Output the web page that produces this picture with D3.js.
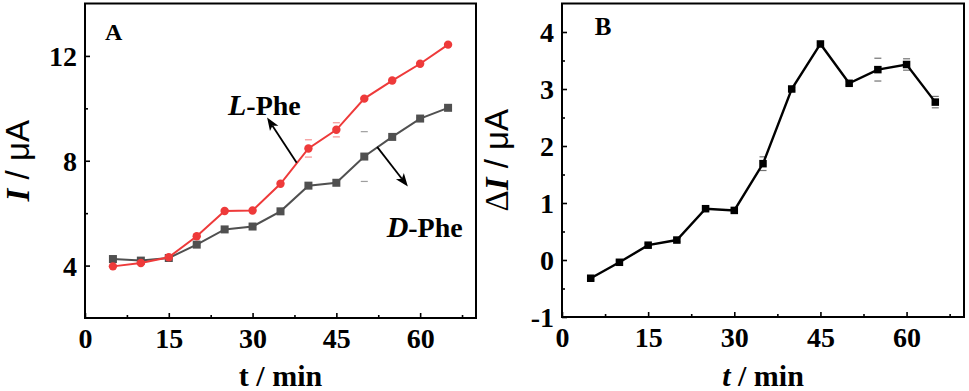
<!DOCTYPE html>
<html>
<head>
<meta charset="utf-8">
<script src="https://cdn.jsdelivr.net/npm/d3@7"></script>
<style>
  html, body { margin: 0; padding: 0; background: #fff; }
  svg { display: block; }
</style>
</head>
<body>
<svg id="chart" width="969" height="391"></svg>
<script>
// ---- data ----
const times = [5, 10, 15, 20, 25, 30, 35, 40, 45, 50, 55, 60, 65];
const lPhe = [3.97, 4.10, 4.32, 5.12, 6.08, 6.10, 7.12, 8.47, 9.18, 10.37, 11.06, 11.70, 12.43];
const lPheErr = [0.03, 0.03, 0.03, 0.03, 0.03, 0.03, 0.03, 0.33, 0.27, 0.03, 0.03, 0.03, 0.03];
const dPhe = [4.25, 4.19, 4.29, 4.80, 5.38, 5.49, 6.07, 7.05, 7.16, 8.16, 8.91, 9.61, 10.02];
const dPheErr = [0.03, 0.03, 0.03, 0.03, 0.03, 0.03, 0.03, 0.03, 0.03, 0.95, 0.03, 0.03, 0.03];
const deltaI = [-0.32, -0.04, 0.26, 0.35, 0.90, 0.87, 1.69, 3.00, 3.79, 3.10, 3.34, 3.43, 2.77];
const deltaErr = [0.03, 0.03, 0.03, 0.03, 0.03, 0.03, 0.12, 0.03, 0.03, 0.03, 0.2, 0.1, 0.1];
const xTicks = [0, 15, 30, 45, 60];
const yTicksA = [4, 8, 12];
const yTicksB = [-1, 0, 1, 2, 3, 4];

const RED = "#ee3a3a", GRAY = "#505050", BLACK = "#000";
const serif = "'Liberation Serif','Times New Roman',serif";
const sans = "'Liberation Sans',Arial,sans-serif";

const svg = d3.select("#chart");

function panel(opts) {
  const x = d3.scaleLinear().domain([0, 70]).range(opts.xr);
  const y = d3.scaleLinear().domain(opts.yd).range(opts.yr);
  const g = svg.append("g");

  const xAxis = d3.axisBottom(x).tickValues(xTicks).tickSize(-5).tickFormat(d3.format("d")).tickPadding(10);
  const xMinor = d3.axisBottom(x).tickValues(xTicks.map(v => v + 7.5)).tickSize(-3).tickFormat("");
  const yAxis = d3.axisLeft(y).tickValues(opts.yTicks).tickSize(-5).tickFormat(d3.format("d")).tickPadding(8);
  const yMinor = d3.axisLeft(y).tickValues(opts.yMinor).tickSize(-3).tickFormat("");

  const axes = [
    g.append("g").attr("transform", `translate(0,${opts.yr[0]})`).call(xAxis),
    g.append("g").attr("transform", `translate(0,${opts.yr[0]})`).call(xMinor),
    g.append("g").attr("transform", `translate(${opts.xr[0]},0)`).call(yAxis),
    g.append("g").attr("transform", `translate(${opts.xr[0]},0)`).call(yMinor)
  ];
  axes.forEach(a => {
    a.select(".domain").remove();
    a.selectAll(".tick line").attr("stroke", "#000").attr("stroke-width", 1.6);
    a.selectAll(".tick text").attr("font-family", serif).attr("font-weight", "bold")
      .attr("font-size", 28).attr("fill", "#000");
  });
  axes[2].selectAll(".tick text").attr("dy", "0.34em").text(d => d < 0 ? "-" + Math.abs(d) : d);
  axes[0].selectAll(".tick text").attr("dy", "0.71em");

  g.append("rect")
    .attr("x", opts.xr[0]).attr("y", opts.yr[1])
    .attr("width", opts.xr[1] - opts.xr[0]).attr("height", opts.yr[0] - opts.yr[1])
    .attr("fill", "none").attr("stroke", "#000").attr("stroke-width", 2);

  opts.series.forEach(s => {
    const pts = times.map((t, i) => ({ t, v: s.values[i], e: s.err[i] }));
    g.append("g").selectAll("line").data(pts.flatMap(p => [p.v + p.e, p.v - p.e].map(v => ({ t: p.t, v }))))
      .join("line")
      .attr("x1", d => x(d.t) - 3.5).attr("x2", d => x(d.t) + 3.5)
      .attr("y1", d => y(d.v)).attr("y2", d => y(d.v))
      .attr("stroke", s.color).attr("stroke-width", 1.2).attr("opacity", 0.55);
    g.append("path").datum(pts)
      .attr("d", d3.line().x(d => x(d.t)).y(d => y(d.v)))
      .attr("fill", "none").attr("stroke", s.color).attr("stroke-width", s.lw);
    if (s.shape === "circle") {
      g.append("g").selectAll("circle").data(pts).join("circle")
        .attr("cx", d => x(d.t)).attr("cy", d => y(d.v)).attr("r", 4.2).attr("fill", s.color);
    } else {
      g.append("g").selectAll("rect").data(pts).join("rect")
        .attr("x", d => x(d.t) - s.size / 2).attr("y", d => y(d.v) - s.size / 2)
        .attr("width", s.size).attr("height", s.size).attr("fill", s.color);
    }
  });

  g.append("text").attr("x", x(opts.letterPos[0])).attr("y", y(opts.letterPos[1]))
    .attr("font-family", serif).attr("font-weight", "bold").attr("font-size", opts.letterSize)
    .text(opts.letter);

  const yl = g.append("text")
    .attr("transform", `translate(${opts.ylx},${(opts.yr[0] + opts.yr[1]) / 2}) rotate(-90)`)
    .attr("text-anchor", "middle").attr("font-size", 33);
  opts.ylabel.forEach(p => yl.append("tspan").text(p.t)
    .attr("font-family", p.f).attr("font-weight", p.w || "normal").attr("font-style", p.s || "normal"));

  const xl = g.append("text")
    .attr("x", (opts.xr[0] + opts.xr[1]) / 2).attr("y", 386)
    .attr("text-anchor", "middle").attr("font-size", 30).attr("font-family", serif).attr("font-weight", "bold");
  opts.xlabel.forEach(p => xl.append("tspan").text(p.t).attr("font-style", p.s || "normal"));

  return { x, y, g };
}

// ---- Panel A ----
const A = panel({
  xr: [85, 476], yd: [2, 14], yr: [318, 3.5],
  yTicks: yTicksA, yMinor: [6, 10],
  series: [
    { values: dPhe, err: dPheErr, color: GRAY, shape: "square", size: 8, lw: 2 },
    { values: lPhe, err: lPheErr, color: RED, shape: "circle", lw: 2 }
  ],
  letter: "A", letterPos: [3.6, 12.6], letterSize: 24,
  ylx: 29,
  ylabel: [{ t: "I", f: serif, w: "bold", s: "italic" }, { t: " / μA", f: sans }],
  xlabel: [{ t: "t / min" }]
});

const annotations = [
  { label: "L", rest: "-Phe", tx: 25.6, ty: 9.75, from: [37.9, 7.92], to: [32.6, 9.65] },
  { label: "D", rest: "-Phe", tx: 54.0, ty: 5.1, from: [52.3, 8.53], to: [57.8, 7.02] }
];
annotations.forEach(a => {
  const x1 = A.x(a.from[0]), y1 = A.y(a.from[1]), x2 = A.x(a.to[0]), y2 = A.y(a.to[1]);
  const ang = Math.atan2(y2 - y1, x2 - x1);
  const L = 13, W = 5;
  const bx = x2 - L * Math.cos(ang), by = y2 - L * Math.sin(ang);
  const nx = -Math.sin(ang), ny = Math.cos(ang);
  const ix = x2 - (L * 0.75) * Math.cos(ang), iy = y2 - (L * 0.75) * Math.sin(ang);
  A.g.append("line")
    .attr("x1", x1).attr("y1", y1).attr("x2", ix).attr("y2", iy)
    .attr("stroke", "#000").attr("stroke-width", 1.8);
  A.g.append("path")
    .attr("d", `M${x2},${y2} L${bx + nx * W},${by + ny * W} L${ix},${iy} L${bx - nx * W},${by - ny * W} Z`)
    .attr("fill", "#000");
  const t = A.g.append("text").attr("x", A.x(a.tx)).attr("y", A.y(a.ty))
    .attr("font-family", serif).attr("font-weight", "bold").attr("font-size", 30);
  t.append("tspan").text(a.label).attr("font-style", "italic");
  t.append("tspan").text(a.rest).attr("font-size", 28);
});

// ---- Panel B ----
panel({
  xr: [562, 964], yd: [-1, 4.5], yr: [317, 3.5],
  yTicks: yTicksB, yMinor: [-0.5, 0.5, 1.5, 2.5, 3.5],
  series: [
    { values: deltaI, err: deltaErr, color: BLACK, shape: "square", size: 7.5, lw: 2.4 }
  ],
  letter: "B", letterPos: [5.7, 3.95], letterSize: 25,
  ylx: 508,
  ylabel: [{ t: "Δ", f: serif }, { t: "I", f: serif, w: "bold", s: "italic" }, { t: " / μA", f: sans }],
  xlabel: [{ t: "t", s: "italic" }, { t: " / min" }]
});
</script>
</body>
</html>
